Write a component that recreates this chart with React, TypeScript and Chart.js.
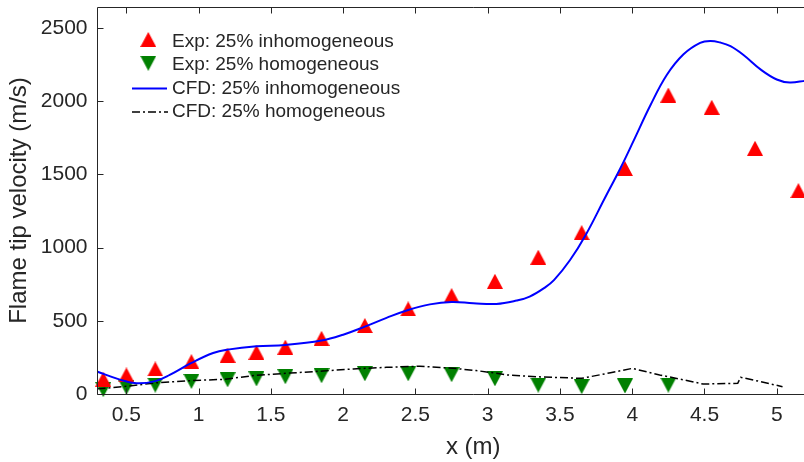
import React, { useEffect, useRef } from 'react';
import { Chart, registerables } from 'chart.js';

Chart.register(...registerables);

// ---------------- data ----------------
const xTicks = [0.5, 1, 1.5, 2, 2.5, 3, 3.5, 4, 4.5, 5];
const yTicks = [0, 500, 1000, 1500, 2000, 2500];

const seriesLabels = [
  'Exp: 25% inhomogeneous',
  'Exp: 25% homogeneous',
  'CFD: 25% inhomogeneous',
  'CFD: 25% homogeneous',
];

const expInhomX = [0.34, 0.5, 0.7, 0.95, 1.2, 1.4, 1.6, 1.85, 2.15, 2.45, 2.75, 3.05, 3.35, 3.65, 3.95, 4.25, 4.55, 4.85, 5.15];
const expInhomY = [101, 130, 171, 221, 265, 285, 320, 380, 467, 581, 672, 770, 934, 1102, 1540, 2042, 1958, 1678, 1389];

const expHomX = [0.34, 0.5, 0.7, 0.95, 1.2, 1.4, 1.6, 1.85, 2.15, 2.45, 2.75, 3.05, 3.35, 3.65, 3.95, 4.25];
const expHomY = [30, 46, 61, 86, 97, 103, 118, 125, 138, 138, 132, 104, 61, 50, 55, 61];

const cfdInhomX = [0.3, 0.45, 0.57, 0.7, 0.8, 0.95, 1.1, 1.2, 1.4, 1.6, 1.85, 2.0, 2.15, 2.3, 2.45, 2.6, 2.75, 2.9, 3.06, 3.2, 3.29, 3.4, 3.46, 3.57, 3.68, 3.81, 3.92, 4.01, 4.125, 4.24, 4.355, 4.47, 4.54, 4.61, 4.68, 4.77, 4.89, 5.0, 5.09, 5.2];
const cfdInhomY = [152, 100, 73, 88, 130, 212, 280, 303, 326, 335, 365, 405, 460, 520, 574, 612, 628, 620, 615, 638, 665, 730, 779, 915, 1090, 1337, 1545, 1730, 1970, 2180, 2320, 2398, 2411, 2400, 2375, 2315, 2215, 2148, 2127, 2140];

const cfdHomX = [0.3, 0.48, 0.71, 0.94, 1.17, 1.4, 1.63, 1.86, 2.07, 2.3, 2.53, 2.76, 2.92, 3.06, 3.13, 3.34, 3.5, 3.65, 3.85, 4.0, 4.19, 4.36, 4.49, 4.73, 4.75, 4.89, 5.04];
const cfdHomY = [35, 50, 77, 91, 100, 128, 143, 157, 171, 182, 190, 176, 160, 142, 130, 118, 112, 107, 145, 175, 130, 96, 68, 73, 114, 84, 50];

// ---------------- styles ----------------
const AXIS = '#262626';
const FONT = "'Liberation Sans', Arial, Helvetica, sans-serif";
const RED = '#ff0000';
const GREEN = '#008000';
const BLUE = '#0000ff';
const DASHDOT = [8, 3, 2, 3];

const zip = (xs: number[], ys: number[]) => xs.map((x, i) => ({ x, y: ys[i] }));

function makeTri(color: string, down: boolean): HTMLCanvasElement {
  const c = document.createElement('canvas');
  c.width = 16;
  c.height = 15;
  const g = c.getContext('2d')!;
  g.fillStyle = color;
  g.beginPath();
  if (!down) {
    g.moveTo(8, 0);
    g.lineTo(16, 15);
    g.lineTo(0, 15);
  } else {
    g.moveTo(0, 0);
    g.lineTo(16, 0);
    g.lineTo(8, 15);
  }
  g.closePath();
  g.fill();
  return c;
}

export default function App() {
  const ref = useRef<HTMLCanvasElement | null>(null);

  useEffect(() => {
    if (!ref.current) return;
    Chart.defaults.font.family = FONT;
    const upTri = makeTri(RED, false);
    const downTri = makeTri(GREEN, true);

    const axesPlugin = {
      id: 'matlabAxes',
      afterDatasetsDraw(chart: any) {
        const { ctx, chartArea: a, scales } = chart;
        const L = Math.floor(a.left) + 0.5;
        const T = Math.floor(a.top) + 0.5;
        const B = Math.floor(a.bottom) + 0.5;
        const R = a.right;
        ctx.save();
        ctx.strokeStyle = AXIS;
        ctx.lineWidth = 1;
        ctx.beginPath();
        ctx.moveTo(L, T);
        ctx.lineTo(R, T);
        ctx.moveTo(L, T);
        ctx.lineTo(L, B);
        ctx.lineTo(R, B);
        const tl = 6;
        xTicks.forEach((v) => {
          const px = Math.round(scales.x.getPixelForValue(v)) + 0.5;
          ctx.moveTo(px, B);
          ctx.lineTo(px, B - tl);
          ctx.moveTo(px, T);
          ctx.lineTo(px, T + tl);
        });
        yTicks.forEach((v) => {
          const py = Math.round(scales.y.getPixelForValue(v)) + 0.5;
          ctx.moveTo(L, py);
          ctx.lineTo(L + tl, py);
        });
        ctx.stroke();
        ctx.restore();
      },
    };

    const legendPlugin = {
      id: 'matlabLegend',
      afterDraw(chart: any) {
        const ctx = chart.ctx;
        const labels = chart.data.datasets.map((d: any) => d.label);
        const rows = [41.7, 65, 88.4, 111.7];
        const tx = 172;
        ctx.save();
        ctx.drawImage(upTri, 148.3 - 8, 39.5 - 7.5);
        ctx.drawImage(downTri, 148.3 - 8, 63.3 - 7.5);
        ctx.strokeStyle = BLUE;
        ctx.lineWidth = 2;
        ctx.beginPath();
        ctx.moveTo(132, 88.5);
        ctx.lineTo(167, 88.5);
        ctx.stroke();
        ctx.strokeStyle = '#000000';
        ctx.lineWidth = 1.5;
        ctx.setLineDash(DASHDOT);
        ctx.beginPath();
        ctx.moveTo(132, 112);
        ctx.lineTo(168, 112);
        ctx.stroke();
        ctx.setLineDash([]);
        ctx.font = `19px ${FONT}`;
        ctx.fillStyle = AXIS;
        ctx.textAlign = 'left';
        ctx.textBaseline = 'middle';
        labels.forEach((t: string, i: number) => ctx.fillText(t, tx, rows[i]));
        ctx.restore();
      },
    };

    const chart = new Chart(ref.current, {
      type: 'line',
      data: {
        datasets: [
          {
            label: seriesLabels[0],
            data: zip(expInhomX, expInhomY),
            showLine: false,
            pointStyle: upTri as any,
            pointRadius: 8,
            borderColor: RED,
            backgroundColor: RED,
            clip: false as any,
            order: 2,
          },
          {
            label: seriesLabels[1],
            data: zip(expHomX, expHomY),
            showLine: false,
            pointStyle: downTri as any,
            pointRadius: 8,
            borderColor: GREEN,
            backgroundColor: GREEN,
            clip: false as any,
            order: 2,
          },
          {
            label: seriesLabels[2],
            data: zip(cfdInhomX, cfdInhomY),
            borderColor: BLUE,
            borderWidth: 2,
            pointRadius: 0,
            tension: 0.4,
            fill: false,
            order: 0,
          },
          {
            label: seriesLabels[3],
            data: zip(cfdHomX, cfdHomY),
            borderColor: '#000000',
            borderWidth: 1.5,
            borderDash: DASHDOT,
            pointRadius: 0,
            tension: 0,
            fill: false,
            order: 1,
          },
        ],
      },
      options: {
        responsive: false,
        animation: false,
        devicePixelRatio: 1,
        layout: { autoPadding: false, padding: { top: 7, left: 0, right: 0, bottom: 0 } },
        plugins: { legend: { display: false }, tooltip: { enabled: false } },
        scales: {
          x: {
            type: 'linear',
            min: 0.3,
            max: 5.5,
            afterBuildTicks: (s: any) => {
              s.ticks = xTicks.map((v) => ({ value: v }));
            },
            afterFit: (s: any) => {
              s.height = 68;
              s.paddingLeft = 0;
              s.paddingRight = 0;
            },
            ticks: {
              callback: (v: any) => String(v),
              font: { size: 21 },
              color: AXIS,
              padding: 9,
              maxRotation: 0,
              autoSkip: false,
            },
            grid: { display: false, drawTicks: false },
            border: { display: false },
            title: {
              display: true,
              text: 'x (m)',
              font: { size: 24 },
              color: AXIS,
              padding: { top: 0, bottom: 0 },
            },
          },
          y: {
            type: 'linear',
            min: 0,
            max: 2643,
            afterBuildTicks: (s: any) => {
              s.ticks = yTicks.map((v) => ({ value: v }));
            },
            afterFit: (s: any) => {
              s.width = 97.5;
              s.paddingTop = 0;
              s.paddingBottom = 0;
            },
            ticks: {
              callback: (v: any) => String(v),
              font: { size: 21 },
              color: AXIS,
              padding: 10,
            },
            grid: { display: false, drawTicks: false },
            border: { display: false },
            title: {
              display: true,
              text: 'Flame tip velocity (m/s)',
              font: { size: 24 },
              color: AXIS,
              padding: { top: 5, bottom: 0 },
            },
          },
        },
      },
      plugins: [axesPlugin, legendPlugin],
    } as any);

    return () => chart.destroy();
  }, []);

  return (
    <div
      style={{
        position: 'absolute',
        left: 0,
        top: 0,
        width: 804,
        height: 462,
        overflow: 'hidden',
        background: '#ffffff',
      }}
    >
      <canvas ref={ref} width={849} height={462} style={{ display: 'block' }} />
    </div>
  );
}
